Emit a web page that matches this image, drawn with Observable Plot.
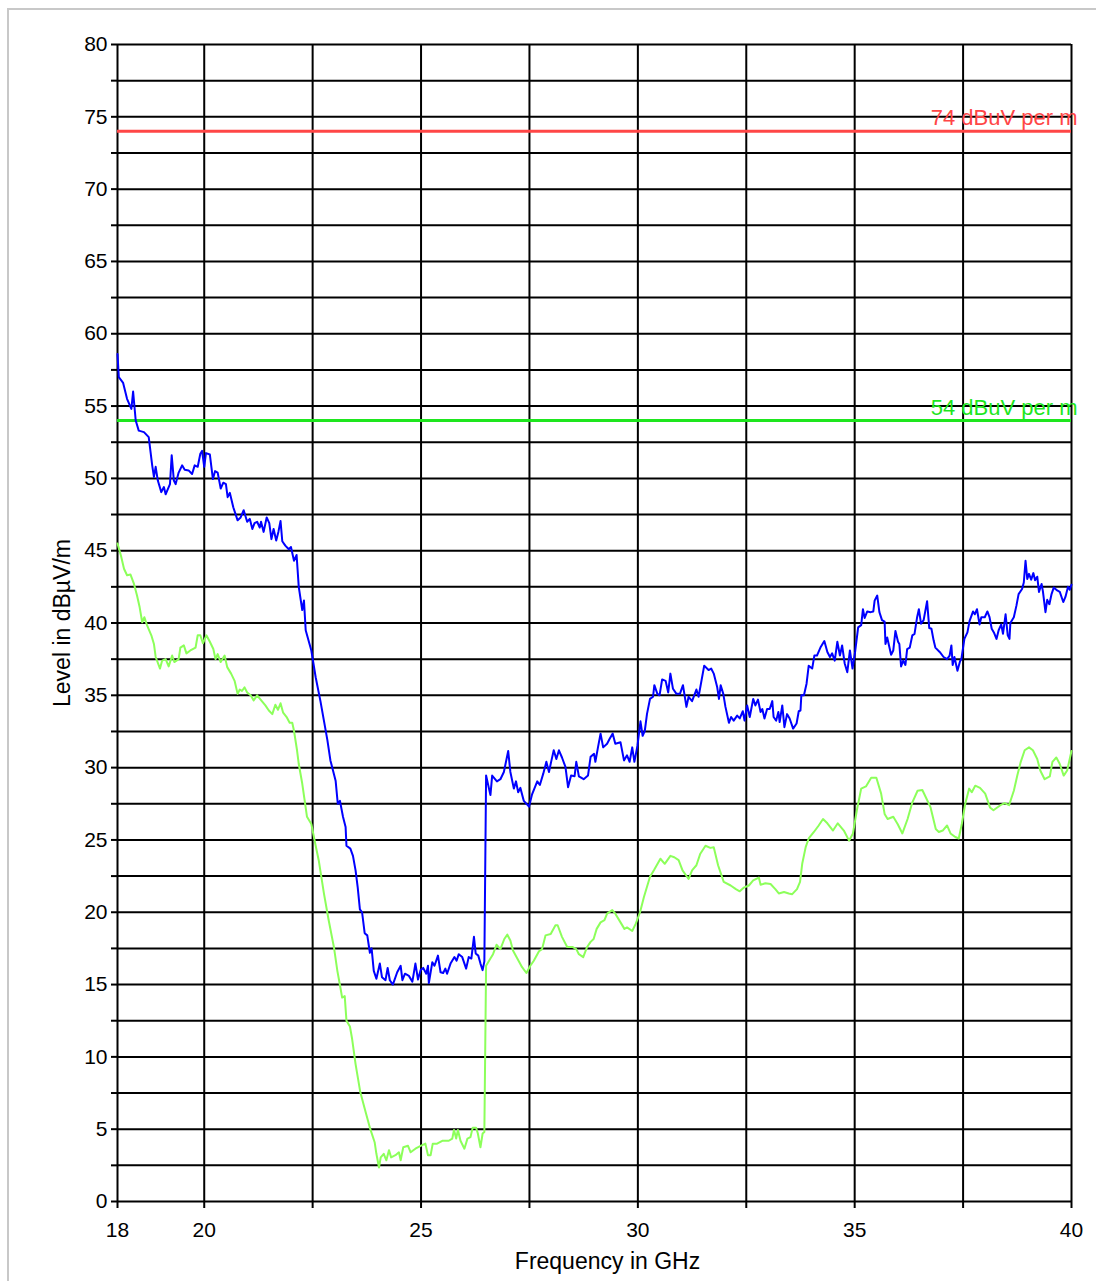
<!DOCTYPE html>
<html>
<head>
<meta charset="utf-8">
<script src="https://cdn.jsdelivr.net/npm/d3@7"></script>
<script src="https://cdn.jsdelivr.net/npm/@observablehq/plot@0.6"></script>
<style>
  html, body { margin: 0; padding: 0; background: #fff; overflow: hidden; width: 1096px; height: 1281px; }
  #frameTop { position: absolute; left: 7px; top: 8px; width: 1089px; height: 2px; background: #c8c8c8; z-index: 2; }
  #frameLeft { position: absolute; left: 7px; top: 8px; width: 2px; height: 1273px; background: #c8c8c8; z-index: 2; }
  #chart { position: absolute; left: 0; top: 0; z-index: 1; }
</style>
</head>
<body>
<div id="frameTop"></div>
<div id="frameLeft"></div>
<div id="chart"></div>
<script>
// Frequency grid / tick values (GHz)
const xGrid = [18, 20, 22.5, 25, 27.5, 30, 32.5, 35, 37.5, 40];
const xLabels = [18, 20, 25, 30, 35, 40];
// Level grid / tick values (dBµV/m)
const yGrid = [0, 2.5, 5, 7.5, 10, 12.5, 15, 17.5, 20, 22.5, 25, 27.5, 30, 32.5, 35, 37.5, 40, 42.5, 45, 47.5, 50, 52.5, 55, 57.5, 60, 62.5, 65, 67.5, 70, 72.5, 75, 77.5, 80];
const yLabels = [0, 5, 10, 15, 20, 25, 30, 35, 40, 45, 50, 55, 60, 65, 70, 75, 80];

// Limit lines
const limitLevels = [74, 54];
const limitNames = ["74 dBuV per m", "54 dBuV per m"];
const limitColors = ["#ff4646", "#1ee61e"];

// Peak trace (blue)
const blueFreq = [18.0,18.03,18.13,18.22,18.32,18.36,18.42,18.49,18.61,18.72,18.8,18.84,18.88,18.93,19.01,19.07,19.11,19.21,19.25,19.3,19.34,19.41,19.49,19.55,19.64,19.72,19.78,19.85,19.91,19.95,20.0,20.04,20.13,20.2,20.25,20.31,20.38,20.44,20.5,20.54,20.59,20.67,20.77,20.84,20.91,20.99,21.05,21.11,21.16,21.22,21.28,21.31,21.37,21.44,21.5,21.55,21.6,21.66,21.71,21.76,21.8,21.87,21.95,22.0,22.07,22.13,22.18,22.26,22.3,22.34,22.47,22.57,22.68,22.76,22.84,22.91,23.03,23.08,23.13,23.2,23.26,23.28,23.37,23.43,23.49,23.54,23.59,23.64,23.7,23.76,23.82,23.86,23.91,23.97,24.05,24.1,24.18,24.23,24.28,24.35,24.45,24.53,24.57,24.63,24.72,24.8,24.87,24.93,24.99,25.05,25.12,25.16,25.18,25.26,25.31,25.39,25.45,25.51,25.56,25.6,25.68,25.77,25.82,25.87,25.95,26.04,26.1,26.16,26.22,26.26,26.32,26.37,26.42,26.46,26.5,26.6,26.64,26.75,26.83,26.91,27.01,27.06,27.14,27.19,27.24,27.29,27.37,27.49,27.56,27.68,27.74,27.82,27.89,27.95,28.0,28.06,28.12,28.18,28.25,28.33,28.39,28.46,28.54,28.58,28.64,28.75,28.85,28.91,28.99,29.02,29.08,29.14,29.2,29.29,29.35,29.42,29.48,29.6,29.68,29.75,29.81,29.87,29.92,29.99,30.06,30.11,30.16,30.21,30.28,30.35,30.38,30.45,30.5,30.56,30.64,30.7,30.75,30.81,30.89,30.97,31.04,31.12,31.17,31.25,31.35,31.4,31.53,31.63,31.69,31.75,31.83,31.87,31.91,31.97,32.02,32.1,32.15,32.21,32.29,32.35,32.42,32.46,32.52,32.58,32.66,32.71,32.77,32.83,32.87,32.92,32.98,33.04,33.1,33.13,33.19,33.24,33.27,33.33,33.38,33.44,33.5,33.58,33.66,33.71,33.75,33.77,33.83,33.89,33.94,34.02,34.07,34.13,34.21,34.3,34.37,34.43,34.48,34.54,34.6,34.66,34.71,34.77,34.83,34.89,34.95,35.01,35.08,35.15,35.19,35.23,35.29,35.37,35.43,35.46,35.52,35.57,35.63,35.69,35.71,35.75,35.84,35.89,35.94,36.0,36.03,36.07,36.12,36.17,36.21,36.27,36.33,36.38,36.44,36.48,36.53,36.59,36.67,36.72,36.77,36.82,36.86,36.96,37.05,37.13,37.19,37.23,37.26,37.3,37.37,37.43,37.46,37.53,37.6,37.65,37.73,37.77,37.82,37.88,37.92,38.0,38.06,38.11,38.16,38.21,38.27,38.32,38.38,38.42,38.48,38.53,38.57,38.59,38.67,38.73,38.78,38.86,38.9,38.94,38.98,39.02,39.07,39.12,39.16,39.21,39.25,39.31,39.34,39.4,39.44,39.49,39.54,39.59,39.67,39.73,39.81,39.86,39.92,39.96,40.0];
const blueLevel = [58.6,57.0,56.6,55.5,54.8,56.0,54.0,53.3,53.2,52.85,50.9,50.1,50.8,49.85,49.05,49.4,48.9,49.6,51.6,49.85,49.6,50.4,50.9,50.6,50.55,50.3,50.9,50.8,51.7,51.9,50.8,51.75,51.65,49.95,50.5,50.4,49.3,49.7,49.6,48.7,49.0,48.0,47.1,47.3,47.8,47.0,47.2,46.5,46.9,47.0,46.6,47.0,46.3,47.3,46.9,45.8,46.5,45.7,46.3,47.05,45.65,45.35,45.1,45.25,44.3,44.7,42.5,40.9,41.55,39.5,38.1,36.25,34.6,33.25,31.9,30.5,29.1,27.5,27.7,26.6,25.9,24.6,24.4,23.9,22.9,21.7,20.2,20.0,18.55,18.4,17.2,17.5,15.95,15.4,16.45,15.5,15.3,16.15,15.3,15.0,15.85,16.3,15.3,15.75,15.6,15.2,16.45,15.35,16.0,16.15,15.75,16.3,15.1,16.55,16.3,17.0,15.85,15.8,16.1,15.75,16.45,16.9,16.65,17.1,16.9,16.1,16.9,16.8,18.3,17.15,17.0,16.45,16.0,16.6,29.45,28.1,29.45,29.05,29.2,29.7,31.15,29.7,28.55,29.05,28.3,28.6,27.7,27.3,28.15,29.05,28.8,29.6,30.4,29.7,30.4,31.2,30.6,31.2,30.7,30.05,28.65,29.45,29.4,30.4,29.4,29.2,29.45,30.75,30.95,30.4,31.4,32.35,31.4,31.65,32.0,32.35,31.65,31.75,30.5,30.85,30.4,31.4,30.4,31.5,33.2,32.2,32.55,33.7,34.75,34.9,35.7,35.1,35.0,36.1,36.0,35.2,36.5,35.45,35.1,35.1,35.7,34.2,34.9,34.6,35.4,34.9,37.05,36.75,36.85,36.5,35.55,34.75,35.7,35.1,34.2,33.1,33.5,33.25,33.6,33.4,33.9,33.25,34.3,33.5,34.75,34.3,34.7,33.85,34.05,33.4,34.05,34.05,34.6,33.5,33.25,33.85,33.15,34.3,32.8,33.7,33.4,32.7,33.05,33.9,33.95,35.0,35.0,35.8,37.05,36.85,37.75,37.75,38.3,38.75,38.0,37.65,37.9,37.4,38.7,37.75,38.45,37.2,36.6,38.1,36.85,38.0,39.7,39.85,40.95,40.35,40.8,40.75,40.8,41.55,41.9,40.75,40.2,40.1,38.55,39.0,37.8,38.1,39.45,38.7,38.55,37.0,37.4,37.1,38.2,38.3,39.15,39.25,40.4,40.95,39.95,40.2,41.5,39.65,39.6,38.8,38.3,38.0,37.65,37.5,37.75,38.45,37.1,37.65,36.7,37.35,37.5,38.9,39.35,40.15,40.8,40.6,40.95,39.9,40.4,40.4,40.8,40.4,39.6,39.35,38.9,39.5,39.9,39.25,40.6,39.15,38.9,40.0,40.4,41.2,42.0,42.35,42.8,44.3,43.05,43.4,43.0,43.45,42.95,43.2,42.15,42.7,42.2,40.75,41.6,41.3,42.0,42.45,42.25,42.15,41.45,41.8,42.5,42.3,42.65];

// Average trace (light green)
const greenFreq = [18.0,18.08,18.15,18.22,18.3,18.38,18.45,18.51,18.57,18.62,18.68,18.78,18.84,18.88,18.98,19.03,19.11,19.18,19.26,19.31,19.41,19.45,19.53,19.59,19.68,19.8,19.85,19.91,19.97,20.05,20.13,20.21,20.26,20.31,20.38,20.47,20.53,20.62,20.7,20.77,20.82,20.87,20.93,20.99,21.07,21.14,21.22,21.3,21.41,21.49,21.57,21.64,21.7,21.76,21.82,21.9,21.97,22.03,22.07,22.14,22.18,22.26,22.31,22.37,22.47,22.57,22.64,22.76,22.87,22.99,23.07,23.14,23.18,23.24,23.28,23.36,23.41,23.49,23.6,23.72,23.83,23.93,23.97,24.03,24.07,24.14,24.2,24.26,24.31,24.41,24.49,24.53,24.59,24.7,24.76,24.87,24.99,25.1,25.16,25.22,25.27,25.37,25.49,25.64,25.72,25.76,25.81,25.85,25.91,26.0,26.07,26.14,26.19,26.27,26.31,26.37,26.42,26.46,26.5,26.6,26.66,26.74,26.83,26.92,26.99,27.06,27.12,27.22,27.33,27.43,27.52,27.6,27.72,27.79,27.87,27.99,28.1,28.15,28.25,28.37,28.49,28.58,28.64,28.74,28.83,28.91,28.98,29.05,29.14,29.23,29.29,29.41,29.48,29.6,29.69,29.75,29.87,29.95,30.05,30.14,30.28,30.37,30.52,30.62,30.75,30.84,30.94,31.03,31.17,31.25,31.35,31.44,31.56,31.67,31.75,31.85,31.98,32.14,32.26,32.35,32.44,32.56,32.66,32.79,32.83,32.94,33.06,33.17,33.25,33.37,33.48,33.56,33.67,33.74,33.79,33.87,33.94,34.06,34.17,34.27,34.37,34.5,34.61,34.75,34.87,34.96,35.05,35.15,35.26,35.38,35.5,35.61,35.69,35.76,35.89,35.99,36.1,36.22,36.33,36.45,36.56,36.64,36.75,36.87,36.94,37.03,37.13,37.21,37.32,37.4,37.47,37.55,37.64,37.7,37.78,37.89,38.01,38.12,38.2,38.36,38.46,38.56,38.67,38.75,38.83,38.92,39.02,39.11,39.21,39.28,39.38,39.5,39.56,39.65,39.73,39.82,39.9,40.0];
const greenLevel = [45.5,44.65,43.75,43.3,43.35,42.7,41.9,41.1,40.05,40.4,39.85,39.15,38.55,37.65,36.85,37.4,37.5,37.0,37.75,37.3,37.5,38.3,38.45,37.9,38.1,38.3,39.15,39.15,38.6,39.15,38.7,38.2,37.5,37.85,37.3,37.75,36.95,36.5,36.0,35.1,35.4,35.3,35.55,35.2,35.0,34.65,35.0,34.7,34.3,33.95,33.7,34.35,34.0,34.45,33.8,33.5,33.1,33.1,32.55,31.2,30.25,28.9,27.85,26.6,26.1,24.6,23.6,21.3,19.45,17.6,15.95,14.8,14.1,14.2,12.5,12.1,11.25,9.5,7.55,6.2,5.0,4.1,3.3,2.35,3.05,3.3,2.85,3.55,3.05,3.2,3.4,2.85,3.75,3.85,3.4,3.65,3.85,4.0,3.2,3.2,4.0,4.0,4.2,4.2,4.35,4.95,4.35,4.95,4.2,3.65,4.35,4.45,5.1,5.1,4.7,3.75,4.7,4.8,16.3,16.8,17.1,17.75,17.45,18.15,18.45,18.05,17.35,16.8,16.2,15.8,16.3,16.65,17.3,17.45,18.4,18.5,19.1,19.1,18.3,17.6,17.6,17.45,17.1,16.9,17.6,17.95,18.15,18.85,19.3,19.45,19.9,20.15,19.9,19.3,18.85,18.95,18.7,19.2,20.0,21.05,22.45,22.9,23.7,23.35,23.9,23.8,23.6,22.9,22.3,22.9,23.25,24.05,24.6,24.45,24.5,23.25,22.1,21.85,21.6,21.45,21.7,21.85,22.2,22.4,21.9,22.0,21.95,21.6,21.3,21.4,21.3,21.25,21.6,22.1,23.35,24.5,25.1,25.55,26.0,26.45,26.15,25.65,26.15,25.65,24.95,25.45,27.05,28.55,28.7,29.3,29.3,28.2,26.8,26.45,26.6,26.1,25.45,26.45,27.6,28.4,28.45,27.95,27.25,25.75,25.55,25.65,26.0,25.45,25.2,25.1,26.1,27.5,28.55,28.3,28.75,28.6,28.2,27.25,27.05,27.4,27.55,27.4,28.4,29.45,30.4,31.2,31.4,31.2,30.6,29.8,29.2,29.4,30.4,30.7,30.25,29.45,29.8,31.15];

const blue = blueFreq.map((f, i) => ({f, v: blueLevel[i]}));
const green = greenFreq.map((f, i) => ({f, v: greenLevel[i]}));
const limits = limitLevels.map((v, i) => ({v, name: limitNames[i], color: limitColors[i]}));

const chart = Plot.plot({
  width: 1096,
  height: 1281,
  marginLeft: 117,
  marginRight: 25,
  marginTop: 44,
  marginBottom: 80,
  style: {fontFamily: "'Liberation Sans', Arial, sans-serif", fontSize: "21px", color: "black", background: "transparent", overflow: "visible"},
  x: {domain: [18, 40]},
  y: {domain: [0, 80]},
  marks: [
    Plot.gridY(yGrid, {stroke: "black", strokeOpacity: 1, strokeWidth: 2}),
    Plot.gridX(xGrid, {stroke: "black", strokeOpacity: 1, strokeWidth: 2}),
    Plot.axisY({ticks: yGrid, tickSize: 6, tickPadding: 4, strokeWidth: 2, tickFormat: d => (d % 5 === 0 ? String(d) : ""), label: null, fontSize: 21}),
    Plot.axisX({ticks: xGrid, tickSize: 7, tickPadding: 14, strokeWidth: 2, tickFormat: d => (xLabels.includes(d) ? String(d) : ""), label: null, fontSize: 21}),
    Plot.ruleY(limits, {y: "v", stroke: "color", strokeWidth: 3}),
    Plot.line(green, {x: "f", y: "v", stroke: "#8cff5a", strokeWidth: 2}),
    Plot.line(blue, {x: "f", y: "v", stroke: "#0000ff", strokeWidth: 2}),
    Plot.text(limits, {x: 40, y: "v", text: "name", fill: "color", textAnchor: "end", dx: 6, dy: -13, fontSize: 22}),
    Plot.text(["Level in dBµV/m"], {frameAnchor: "left", textAnchor: "middle", text: d => d, rotate: -90, dx: -55, fontSize: 23}),
    Plot.text(["Frequency in GHz"], {frameAnchor: "bottom", textAnchor: "middle", text: d => d, dx: 13, dy: 67, fontSize: 23})
  ]
});
document.getElementById("chart").appendChild(chart);
</script>
</body>
</html>
